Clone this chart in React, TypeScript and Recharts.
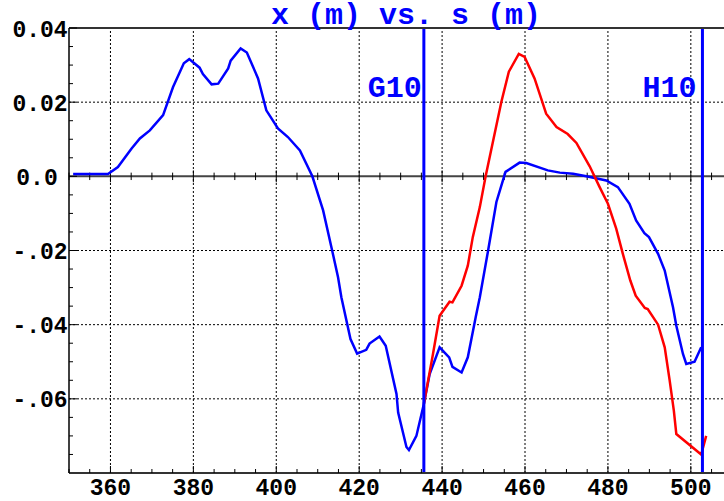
import React from 'react'
import { ComposedChart, Line, XAxis, YAxis, ReferenceLine } from 'recharts'

// s (m) and x (m)
const blueS = [
  351.0, 359.4, 361.8, 365.1, 367.1, 369.5, 372.7, 375.1, 377.7, 379.0,
  381.5, 382.3, 384.4, 386.0, 388.4, 389.0, 391.4, 392.9, 395.6, 397.6,
  400.4, 402.8, 405.7, 408.7, 411.3, 413.3, 414.9, 415.7, 417.9, 419.5,
  421.7, 422.5, 424.9, 426.4, 429.0, 429.4, 431.4, 432.0, 433.8, 435.6,
  437.0, 439.4, 441.7, 442.5, 444.7, 446.2, 448.1, 449.1, 451.1, 453.1,
  455.3, 458.7, 460.3, 465.5, 468.4, 471.6, 474.8, 479.6, 482.4, 485.2,
  486.8, 488.8, 489.9, 492.1, 493.7, 495.7, 496.5, 498.1, 498.9, 500.9,
  502.5,
]
const blueX = [
  0.0006, 0.0006, 0.0025, 0.0075, 0.0102, 0.0124, 0.0165, 0.0241, 0.0305, 0.0316,
  0.0293, 0.0276, 0.0248, 0.025, 0.0291, 0.0312, 0.0345, 0.0334, 0.0264, 0.0178,
  0.0129, 0.0106, 0.007, 0.0, -0.0092, -0.0191, -0.0272, -0.0326, -0.0439, -0.0478,
  -0.0468, -0.0451, -0.0432, -0.0457, -0.0587, -0.0637, -0.073, -0.0738, -0.07, -0.0614,
  -0.0533, -0.0461, -0.0488, -0.0514, -0.0529, -0.0488, -0.038, -0.0326, -0.02, -0.0069,
  0.0012, 0.0037, 0.0036, 0.0016, 0.001, 0.0007, 0.0, -0.0011, -0.0029, -0.0074,
  -0.0119, -0.0153, -0.0164, -0.0209, -0.0254, -0.0353, -0.0403, -0.0479, -0.0506, -0.05,
  -0.0461,
]

const redS = [
  435.6, 437.8, 439.4, 441.8, 442.5, 444.7, 446.2, 447.4, 449.1, 450.5,
  454.3, 456.1, 458.5, 459.9, 462.3, 465.1, 467.6, 470.3, 472.4, 475.6,
  478.0, 480.0, 482.0, 483.6, 485.4, 486.7, 488.9, 489.6, 492.1, 493.7,
  494.9, 495.9, 496.5, 502.5, 503.7,
]
const redX = [
  -0.0614, -0.0479, -0.0376, -0.0338, -0.034, -0.0295, -0.0241, -0.0164, -0.0083, 0.0,
  0.0201, 0.0282, 0.033, 0.0322, 0.0264, 0.0169, 0.0133, 0.0114, 0.009, 0.0027,
  -0.0029, -0.0074, -0.0141, -0.0209, -0.0281, -0.0322, -0.0355, -0.0358, -0.04, -0.0461,
  -0.0551, -0.0632, -0.0695, -0.075, -0.07,
]

const xMajorTicks = [360, 380, 400, 420, 440, 460, 480, 500]
const xMinorTicks = [
  350, 355, 360, 365, 370, 375, 380, 385, 390, 395, 400, 405, 410, 415, 420, 425,
  430, 435, 440, 445, 450, 455, 460, 465, 470, 475, 480, 485, 490, 495, 500, 505,
]
const yMajorTicks = [0.04, 0.02, 0, -0.02, -0.04, -0.06]
const yTickLabels = ['0.04', '0.02', '0.0', '-.02', '-.04', '-.06']
const yMinorTicks = [
  0.04, 0.035, 0.03, 0.025, 0.02, 0.015, 0.01, 0.005, 0, -0.005, -0.01, -0.015, -0.02,
  -0.025, -0.03, -0.035, -0.04, -0.045, -0.05, -0.055, -0.06, -0.065, -0.07, -0.075,
]
const markerNames = ['G10', 'H10']
const markerS = [435.6, 502.8]

const blueData = blueS.map((s, i) => ({ s, x: blueX[i] }))
const redData = redS.map((s, i) => ({ s, x: redX[i] }))

const FONT = '"Liberation Mono", "Courier New", monospace'
const BLUE = '#0000ff'

function majorIndex(list: number[], v: number) {
  return list.findIndex(t => Math.abs(t - v) < 1e-9)
}

function BottomTick(props: any) {
  const { x, y, payload } = props
  const major = majorIndex(xMajorTicks, payload.value) >= 0
  return (
    <g>
      <line x1={x} x2={x} y1={y} y2={y - (major ? 7 : 4)} stroke="#000" strokeWidth={1} />
      {major && (
        <text x={x} y={y + 22} textAnchor="middle" fontFamily={FONT} fontWeight="bold" fontSize={23} fill="#000">
          {payload.value}
        </text>
      )}
    </g>
  )
}

function TopTick(props: any) {
  const { x, y, payload } = props
  const major = majorIndex(xMajorTicks, payload.value) >= 0
  return <line x1={x} x2={x} y1={y} y2={y + (major ? 6 : 3)} stroke="#000" strokeWidth={1} />
}

function LeftTick(props: any) {
  const { x, y, payload } = props
  const idx = majorIndex(yMajorTicks, payload.value)
  const label = idx >= 0 ? yTickLabels[idx] : null
  return (
    <g>
      <line x1={x} x2={x + (idx >= 0 ? 8 : 4)} y1={y} y2={y} stroke="#000" strokeWidth={1} />
      {label && (
        <text
          x={x - (label === '0.0' ? 32 : 29)}
          y={y + 8.5}
          textAnchor="middle"
          fontFamily={FONT}
          fontWeight="bold"
          fontSize={23}
          fill="#000"
        >
          {label}
        </text>
      )}
    </g>
  )
}

export default function App() {
  return (
    <div style={{ position: 'relative', width: 724, height: 501, background: '#fff' }}>
      <style>{'body{margin:0;background:#fff}'}</style>
      <ComposedChart width={724} height={501} margin={{ top: 0, right: 0, bottom: 0, left: 0 }}>
        <XAxis
          dataKey="s"
          type="number"
          domain={[350, 508]}
          ticks={xMinorTicks}
          interval={0}
          allowDataOverflow
          height={28}
          tickSize={0}
          tickMargin={0}
          axisLine={{ stroke: '#333', strokeWidth: 2 }}
          tick={(p: any) => <BottomTick {...p} />}
        />
        <XAxis
          xAxisId="top"
          orientation="top"
          type="number"
          domain={[350, 508]}
          ticks={xMinorTicks}
          interval={0}
          allowDataOverflow
          height={28}
          tickSize={0}
          tickMargin={0}
          axisLine={{ stroke: '#333', strokeWidth: 2 }}
          tick={(p: any) => <TopTick {...p} />}
        />
        <YAxis
          type="number"
          domain={[-0.08, 0.04]}
          ticks={yMinorTicks}
          interval={0}
          allowDataOverflow
          width={69}
          tickSize={0}
          tickMargin={0}
          axisLine={{ stroke: '#000', strokeWidth: 1.5 }}
          tick={(p: any) => <LeftTick {...p} />}
        />

        {xMajorTicks.map(v => (
          <ReferenceLine key={'gx' + v} x={v} stroke="#000" strokeWidth={1} strokeDasharray="2 2" />
        ))}
        {yMajorTicks.filter(v => v !== 0 && v !== 0.04).map(v => (
          <ReferenceLine key={'gy' + v} y={v} stroke="#000" strokeWidth={1} strokeDasharray="2 2" />
        ))}
        <ReferenceLine y={0} stroke="#444" strokeWidth={2} />
        {xMinorTicks.map(v => {
          const h = majorIndex(xMajorTicks, v) >= 0 ? 0.0016 : 0.001
          return (
            <ReferenceLine
              key={'zt' + v}
              segment={[{ x: v, y: -h }, { x: v, y: h }]}
              stroke="#000"
              strokeWidth={1}
            />
          )
        })}

        <Line data={blueData} dataKey="x" type="linear" stroke={BLUE} strokeWidth={2.5} dot={false} isAnimationActive={false} />
        <Line data={redData} dataKey="x" type="linear" stroke="#ff0000" strokeWidth={2.5} dot={false} isAnimationActive={false} />

        {markerS.map((s, i) => (
          <ReferenceLine
            key={markerNames[i]}
            x={s}
            stroke={BLUE}
            strokeWidth={3}
            label={(p: any) => (
              <text
                x={p.viewBox.x - (i === 0 ? 2 : 6)}
                y={p.viewBox.y + 69}
                textAnchor="end"
                fontFamily={FONT}
                fontWeight="bold"
                fontSize={30}
                fill={BLUE}
              >
                {markerNames[i]}
              </text>
            )}
          />
        ))}
      </ComposedChart>
      <svg width={724} height={40} style={{ position: 'absolute', left: 0, top: 0, pointerEvents: 'none' }}>
        <text x={406} y={24} textAnchor="middle" fontFamily={FONT} fontWeight="bold" fontSize={30} fill={BLUE}>
          x (m) vs. s (m)
        </text>
      </svg>
    </div>
  )
}
